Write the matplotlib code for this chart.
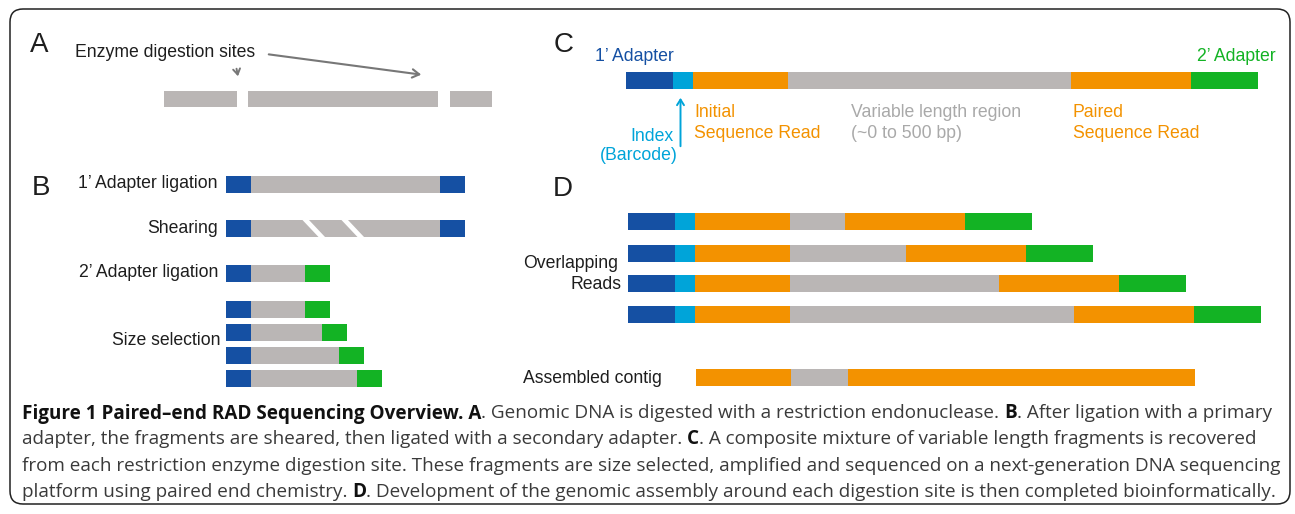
import matplotlib
matplotlib.use("Agg")
import matplotlib.pyplot as plt
from matplotlib.patches import FancyBboxPatch, Polygon, FancyArrowPatch
from matplotlib import font_manager

# ---------------- data ----------------
a_fragments = [73, 190, 42]          # digested genomic fragments
a_gaps = [11, 12]                    # digestion sites (gaps)
b_labels = ["1’ Adapter ligation", "Shearing", "2’ Adapter ligation"]
b_insert = [189, 189, 54]            # grey insert length per step
b_size_sel_insert = [54, 71, 88, 106]
adapter_len = 25
shear_cuts = [51, 90]                # cut offsets inside sheared insert
c_segments = [47, 20, 95, 283, 120, 67]   # adapter1, index, read1, variable, read2, adapter2
d_variable = [55, 116, 209, 284]     # variable region per overlapping read
d_fixed = [47, 20, 95, 120, 67]      # adapter1, index, read1, read2, adapter2
contig = [95, 57, 347]               # read1, gap, assembled paired reads

caption_lines = [
    [("Figure 1 Paired–end RAD Sequencing Overview. A", True),
     (". Genomic DNA is digested with a restriction endonuclease.", False), (" ", False),
     ("B", True), (". After ligation with a primary", False)],
    [("adapter, the fragments are sheared, then ligated with a secondary adapter.", False), (" ", False),
     ("C", True), (". A composite mixture of variable length fragments is recovered", False)],
    [("from each restriction enzyme digestion site. These fragments are size selected, amplified and sequenced on a next-generation DNA sequencing", False)],
    [("platform using paired end chemistry.", False), (" ", False), ("D", True),
     (". Development of the genomic assembly around each digestion site is then completed bioinformatically.", False)],
]

# ---------------- style ----------------
W, H = 1295, 514
BLUE = "#1550a3"
LBLUE = "#00a4d9"
ORANGE = "#f39200"
GREY = "#bab6b5"
GREEN = "#13b324"
TXT = "#1e1e1e"
LAB = ["Liberation Sans", "DejaVu Sans"]
FS = 12.7
BIG = 20
BH = 17

avail = {f.name for f in font_manager.fontManager.ttflist}
CAP = ["Open Sans", "DejaVu Sans"] if "Open Sans" in avail else ["DejaVu Sans"]

fig = plt.figure(figsize=(W / 100, H / 100), dpi=100)
ax = fig.add_axes([0, 0, 1, 1])
ax.set_xlim(0, W)
ax.set_ylim(H, 0)
ax.axis("off")

# frame
frame = FancyBboxPatch((10, 9), 1280, 495, boxstyle="round,pad=0,rounding_size=13",
                       fc="white", ec="#222222", lw=1.1, zorder=0)
ax.add_patch(frame)


def bar_row(y, x0, lengths, colors):
    x = x0
    for L, c in zip(lengths, colors):
        ax.barh(y, L, left=x, height=BH, color=c, linewidth=0, zorder=2)
        x += L
    return x


def label(x, y, s, color=TXT, ha="left", size=FS):
    ax.text(x, y, s, fontsize=size, family=LAB, color=color, va="baseline", ha=ha)


# ---------------- panel A ----------------
label(30, 52, "A", size=BIG)
label(75, 57, "Enzyme digestion sites")
x = 164
for i, L in enumerate(a_fragments):
    ax.barh(99, L, left=x, height=16, color=GREY, linewidth=0, zorder=2)
    x += L
    if i < len(a_gaps):
        x += a_gaps[i]
ax.add_patch(FancyArrowPatch((236, 66), (238.5, 79), arrowstyle="->,head_length=4,head_width=2.5",
                             color="#777777", lw=1.4, mutation_scale=1, zorder=3))
ax.add_patch(FancyArrowPatch((266, 54), (424, 75), arrowstyle="->,head_length=5,head_width=3",
                             color="#777777", lw=1.5, mutation_scale=1, zorder=3))

# ---------------- panel B ----------------
label(32, 195, "B", size=BIG)
b_y = [184.5, 228.5, 273.5]
b_text_y = [188.5, 233, 277]
bx0 = 226
for i, (lab, ins) in enumerate(zip(b_labels, b_insert)):
    right_col = GREEN if i == 2 else BLUE
    bar_row(b_y[i], bx0, [adapter_len, ins, adapter_len], [BLUE, GREY, right_col])
    label(218, b_text_y[i], lab, ha="right")
# shearing cuts
for c in shear_cuts:
    xc = bx0 + adapter_len + c
    top, bot = b_y[1] - BH / 2 - 0.5, b_y[1] + BH / 2 + 0.5
    ax.add_patch(Polygon([(xc, top), (xc + 6.5, top), (xc + 23.5, bot), (xc + 17, bot)],
                         closed=True, fc="white", ec="none", zorder=3))
ss_y = [309.5, 332.5, 355.5, 378.5]
for y, ins in zip(ss_y, b_size_sel_insert):
    bar_row(y, bx0, [adapter_len, ins, adapter_len], [BLUE, GREY, GREEN])
label(221, 345, "Size selection", ha="right")

# ---------------- panel C ----------------
label(554, 52, "C", size=BIG)
bar_row(80.5, 626, c_segments, [BLUE, LBLUE, ORANGE, GREY, ORANGE, GREEN])
label(595, 61, "1’ Adapter", color=BLUE)
label(1276, 61, "2’ Adapter", color=GREEN, ha="right")
label(694, 117, "Initial", color=ORANGE)
label(694, 138, "Sequence Read", color=ORANGE)
label(851, 117, "Variable length region", color="#a9a9a9")
label(851, 138, "(~0 to 500 bp)", color="#a9a9a9")
label(1073, 117, "Paired", color=ORANGE)
label(1073, 138, "Sequence Read", color=ORANGE)
label(674, 141, "Index", color=LBLUE, ha="right")
label(678, 160, "(Barcode)", color=LBLUE, ha="right")
ax.add_patch(FancyArrowPatch((680.5, 149), (680.5, 95), arrowstyle="->,head_length=4,head_width=2.5",
                             color=LBLUE, lw=1.4, mutation_scale=1, zorder=3))

# ---------------- panel D ----------------
label(553, 196, "D", size=BIG)
d_y = [221.5, 253.5, 283.5, 314.5]
for y, v in zip(d_y, d_variable):
    lens = d_fixed[:3] + [v] + d_fixed[3:]
    bar_row(y, 628, lens, [BLUE, LBLUE, ORANGE, GREY, ORANGE, GREEN])
label(618, 268, "Overlapping", ha="right")
label(621, 289, "Reads", ha="right")
bar_row(377.5, 696, contig, [ORANGE, GREY, ORANGE])
label(523, 383, "Assembled contig")

# ---------------- caption ----------------
renderer = fig.canvas.get_renderer()


def draw_line(segs, x0, y, size, draw=True):
    x = x0
    sp = None
    made = []
    for s, bold in segs:
        if s.strip() == "":
            if sp is None:
                t1 = ax.text(0, 0, "a a", fontsize=size, family=CAP)
                t2 = ax.text(0, 0, "aa", fontsize=size, family=CAP)
                sp = t1.get_window_extent(renderer).width - t2.get_window_extent(renderer).width
                t1.remove(); t2.remove()
            x += sp
            continue
        t = ax.text(x, y, s, fontsize=size, family=CAP, va="baseline", ha="left",
                    fontweight="bold" if bold else "normal",
                    color="#111111" if bold else "#3a3a3a", zorder=4)
        x += t.get_window_extent(renderer).width
        made.append(t)
    if not draw:
        for t in made:
            t.remove()
    return x


CX0 = 22
size0 = 13.0
w = draw_line(caption_lines[2], CX0, 470, size0, draw=False) - CX0
cap_size = size0 * 1248 / w
for segs, y in zip(caption_lines, [418.5, 444.5, 471, 497]):
    draw_line(segs, CX0, y, cap_size)

fig.savefig("out.png", dpi=100)
